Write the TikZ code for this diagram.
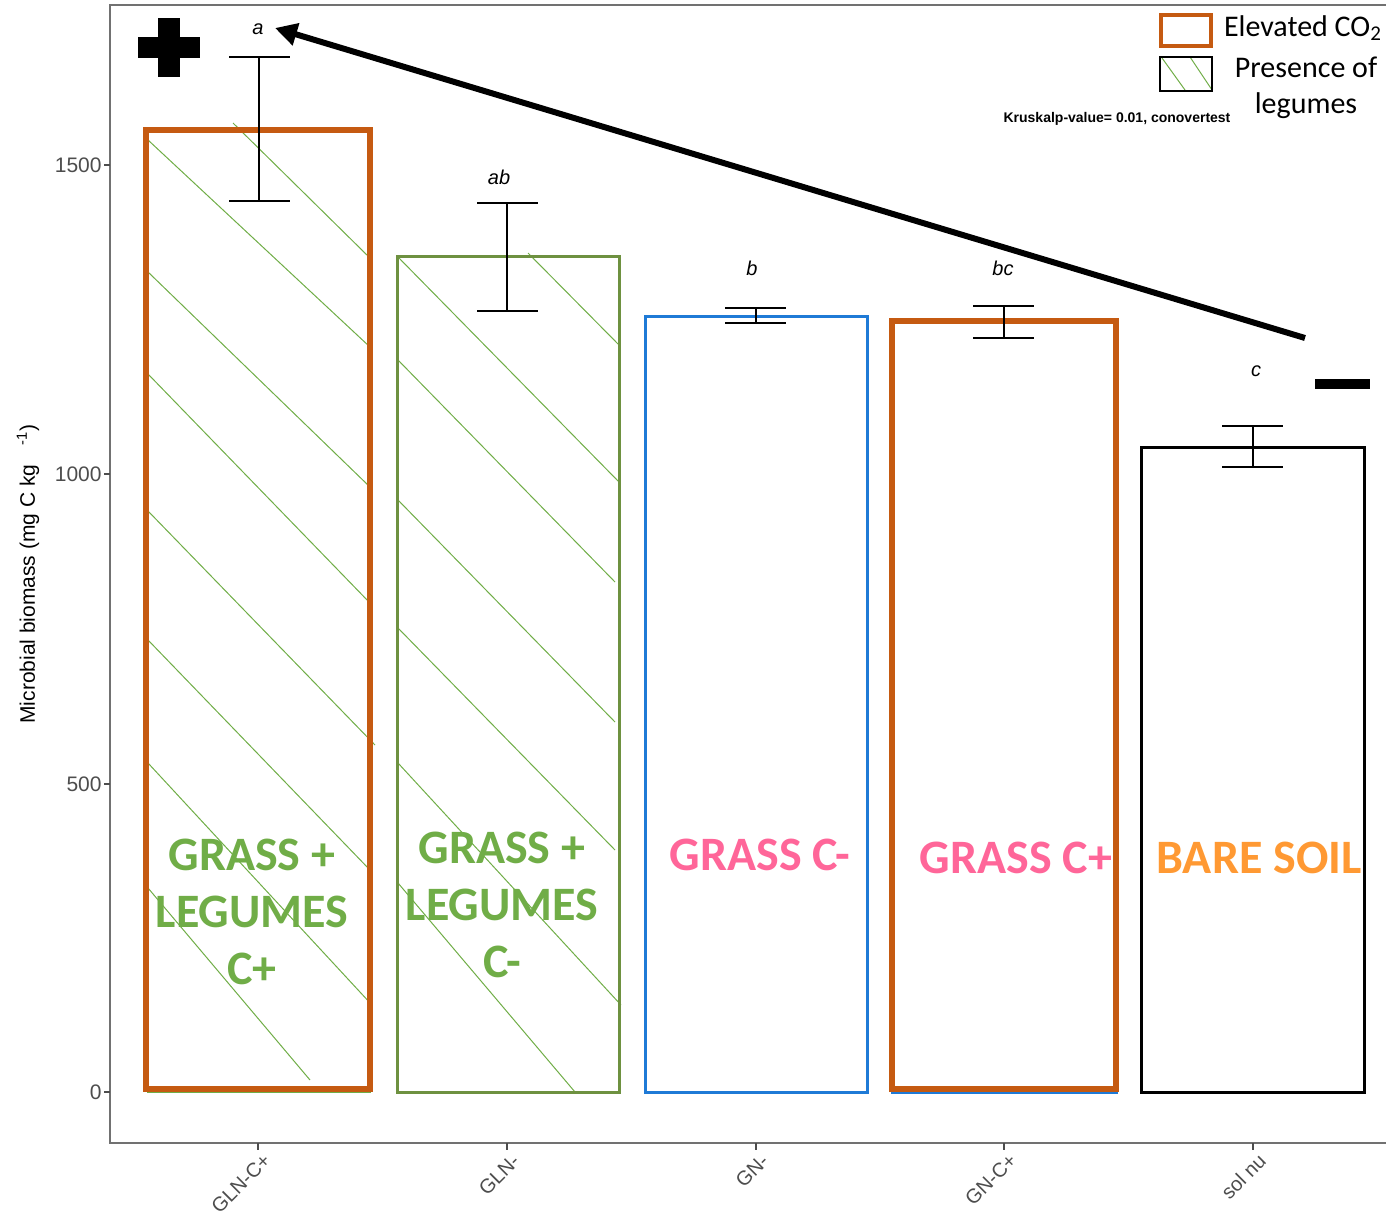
\documentclass[tikz,border=0pt]{standalone}
\usepackage{fontspec}
\setmainfont{Carlito}
\newfontfamily\arialfont{Liberation Sans}
\usetikzlibrary{arrows.meta}
\definecolor{orangeco}{HTML}{C55A11}
\definecolor{legumegreen}{HTML}{70AD47}
\definecolor{olivebar}{HTML}{6E9140}
\definecolor{bluebar}{HTML}{1F7AD6}
\definecolor{pinktext}{HTML}{FF6699}
\definecolor{baretext}{HTML}{FF9933}
\definecolor{axisgray}{HTML}{4D4D4D}

\begin{document}
\begin{tikzpicture}[x=0.5pt,y=-0.5pt,
    errbar/.style={line width=1pt},
    hatch/.style={legumegreen,line width=0.5pt},
    siglabel/.style={inner sep=0pt,font=\arialfont\fontsize{10}{12}\selectfont\itshape},
    ticklabel/.style={inner sep=0pt,axisgray,font=\arialfont\fontsize{10.5}{12}\selectfont},
    xticklabel/.style={ticklabel,rotate=45,anchor=north east,font=\arialfont\fontsize{10}{12}\selectfont},
    barlabel/.style={inner sep=0pt,align=center,font=\bfseries\fontsize{24}{28.5}\selectfont},
    legtext/.style={inner sep=0pt,align=center,font=\fontsize{15}{18}\selectfont}]
\useasboundingbox (0,0) rectangle (1386,1214);

% panel frame and ticks
\draw[axisgray!80,line width=0.75pt] (1386,5) -- (110,5) -- (110,1143) -- (1386,1143);
\foreach \val/\yy in {0/1092,500/784,1000/474,1500/165}{
    \draw[axisgray,line width=0.75pt] (104,\yy) -- (110,\yy);
    \node[ticklabel,anchor=east] (ytick\val) at (102,\yy) {\val};
}
\foreach \xx in {258,507,756,1004,1253}
    \draw[axisgray,line width=0.75pt] (\xx,1143) -- (\xx,1150);
\node[xticklabel] (xglnp) at (262,1152) {GLN-C+};
\node[xticklabel] (xgln) at (511,1152) {GLN-};
\node[xticklabel] (xgn) at (760,1152) {GN-};
\node[xticklabel] (xgnp) at (1008,1152) {GN-C+};
\node[xticklabel] (xsol) at (1257,1152) {sol nu};
\node[inner sep=0pt,rotate=90,font=\arialfont\fontsize{10.5}{12}\selectfont] (ylab) at (28,574)
    {Microbial biomass (mg C kg\hspace{0.9em}\textsuperscript{-1})};

% hatching of the legume bars
\draw[hatch] (233,123) -- (370,258);
\draw[hatch] (148,140) -- (370,347);
\draw[hatch] (148,272) -- (370,487);
\draw[hatch] (148,374) -- (370,603);
\draw[hatch] (148,511) -- (375,745);
\draw[hatch] (148,640) -- (370,870);
\draw[hatch] (148,763) -- (372,1005);
\draw[hatch] (148,888) -- (310,1080);
\draw[hatch] (528,253) -- (619,345);
\draw[hatch] (398,257) -- (619,482);
\draw[hatch] (398,360) -- (615,582);
\draw[hatch] (398,500) -- (615,722);
\draw[hatch] (398,628) -- (615,850);
\draw[hatch] (398,763) -- (621,1005);
\draw[hatch] (398,883) -- (575,1092);

% bars
\draw[legumegreen,line width=0.75pt] (148,129) rectangle (370,1092);
\draw[orangeco,line width=3pt] (146,130) rectangle (370,1089);
\draw[olivebar,line width=1.5pt] (397,257) rectangle (619,1092);
\draw[bluebar,line width=1.5pt] (645,316) rectangle (867,1092);
\draw[bluebar,line width=1.5pt] (892,322) rectangle (1116,1092);
\draw[orangeco,line width=3pt] (892,321) rectangle (1116,1089);
\draw[black,line width=1.5pt] (1141,447) rectangle (1364,1092);

% error bars
\draw[errbar] (229,57) -- (290,57) (259,57) -- (259,201) (229,201) -- (290,201);
\draw[errbar] (477,203) -- (538,203) (507,203) -- (507,311) (477,311) -- (538,311);
\draw[errbar] (725,308) -- (786,308) (756,308) -- (756,323) (725,323) -- (786,323);
\draw[errbar] (973,306) -- (1034,306) (1004,306) -- (1004,338) (973,338) -- (1034,338);
\draw[errbar] (1222,426) -- (1283,426) (1253,426) -- (1253,467) (1222,467) -- (1283,467);

% significance letters
\node[siglabel] (siga) at (258,29) {a};
\node[siglabel] (sigab) at (499,177) {ab};
\node[siglabel] (sigb) at (752,268) {b};
\node[siglabel] (sigbc) at (1003,268) {bc};
\node[siglabel] (sigc) at (1256,371) {c};

% labels inside the bars
\node[barlabel,legumegreen] (lblglnp) at (252,912) {GRASS +\\LEGUMES\\C+};
\node[barlabel,legumegreen] (lblgln) at (502,905) {GRASS +\\LEGUMES\\C-};
\node[barlabel,pinktext] (lblgn) at (760,855) {GRASS C-};
\node[barlabel,pinktext] (lblgnp) at (1016,858) {GRASS C+};
\node[barlabel,baretext] (lblsol) at (1259,858) {BARE SOIL};

% plus and minus, trend arrow
\fill (138,37) rectangle (200,58);
\fill (158,18) rectangle (180,77);
\fill (1315,379) rectangle (1370,389);
\coordinate (arrtail) at (1305,338);
\coordinate (arrtip) at (275,28);
\draw[line width=3pt,-{Triangle[length=11pt,width=11pt]}] (arrtail) -- (arrtip);

% legend
\draw[orangeco,line width=2pt] (1161,15) rectangle (1211,46);
\draw[hatch] (1162,58) -- (1185,90);
\draw[hatch] (1190,57) -- (1212,90);
\draw[line width=1.2pt] (1160,57) rectangle (1212,91);
\node[legtext] (legco) at (1303,28) {Elevated CO\textsubscript{2}};
\node[legtext] (leglegume) at (1306,88) {Presence of\\legumes};
\node[inner sep=0pt,font=\arialfont\bfseries\fontsize{7}{8}\selectfont] (kruskal) at (1117,119)
    {Kruskalp-value= 0.01, conovertest};
\end{tikzpicture}
\end{document}
